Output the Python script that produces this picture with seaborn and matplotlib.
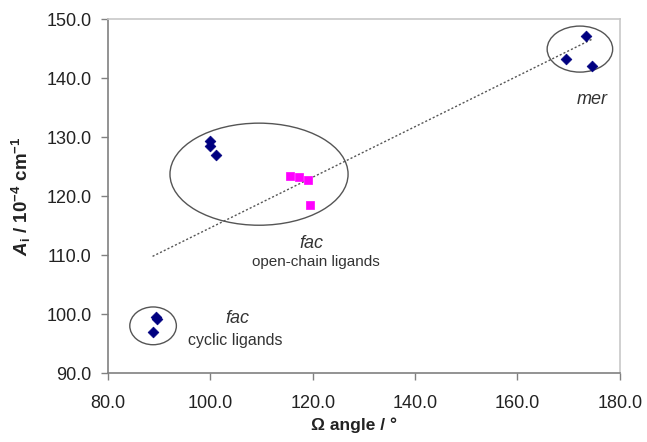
import numpy as np
import pandas as pd
import matplotlib
matplotlib.use("Agg")
import matplotlib.pyplot as plt
import seaborn as sns
from matplotlib.patches import Ellipse

# values
mer_x = [173.4, 169.5, 174.6]
mer_y = [147.1, 143.2, 142.0]
open_blue_x = [100.0, 100.0, 101.0]
open_blue_y = [129.3, 128.4, 126.9]
open_pink_x = [115.5, 117.3, 119.0, 119.4]
open_pink_y = [123.4, 123.2, 122.7, 118.5]
cyclic_x = [88.7, 89.3, 89.6]
cyclic_y = [97.0, 99.5, 99.1]

x_ticks = [80.0, 100.0, 120.0, 140.0, 160.0, 180.0]
y_ticks = [90.0, 100.0, 110.0, 120.0, 130.0, 140.0, 150.0]

df = pd.DataFrame({
    "omega": mer_x + open_blue_x + cyclic_x + open_pink_x,
    "A": mer_y + open_blue_y + cyclic_y + open_pink_y,
    "set": ["blue"] * 9 + ["pink"] * 4,
})

sns.set_theme(style="white")
plt.rcParams["font.family"] = ["Liberation Sans", "DejaVu Sans"]
plt.rcParams["mathtext.fontset"] = "custom"
plt.rcParams["mathtext.rm"] = "Liberation Sans"
plt.rcParams["mathtext.it"] = "Liberation Sans:italic"
plt.rcParams["mathtext.bf"] = "Liberation Sans:bold"
plt.rcParams["mathtext.bfit"] = "Liberation Sans:bold:italic"

fig, ax = plt.subplots(figsize=(6.47, 4.42), dpi=100)
fig.subplots_adjust(left=0.167, right=0.958, top=0.957, bottom=0.156)

# trend line over all points
sns.regplot(data=df, x="omega", y="A", scatter=False, ci=None, ax=ax,
            line_kws=dict(color="#555555", lw=1.0, ls=(0, (1.5, 1.5))))

sns.scatterplot(data=df[df["set"] == "blue"], x="omega", y="A", marker="D",
                color="#000080", s=30, edgecolor="#000080", linewidth=0.5, ax=ax, zorder=3)
sns.scatterplot(data=df[df["set"] == "pink"], x="omega", y="A", marker="s",
                color="#ff00ff", s=38, edgecolor="#ff00ff", linewidth=0.5, ax=ax, zorder=3)

# group outlines
for cx, cy, w, h in [(172.2, 144.9, 12.8, 7.8), (109.5, 123.7, 34.8, 17.3), (88.8, 98.0, 9.1, 6.4)]:
    ax.add_patch(Ellipse((cx, cy), w, h, fill=False, ec="#555555", lw=1.0))

tc = "#333333"
ax.text(174.6, 136.4, "mer", style="italic", fontsize=13, color=tc, ha="center", va="center")
ax.text(119.8, 111.9, "fac", style="italic", fontsize=13, color=tc, ha="center", va="center")
ax.text(120.6, 108.8, "open-chain ligands", fontsize=11, color=tc, ha="center", va="center")
ax.text(105.2, 99.2, "fac", style="italic", fontsize=13, color=tc, ha="center", va="center")
ax.text(104.9, 95.5, "cyclic ligands", fontsize=11.5, color=tc, ha="center", va="center")

ax.set_xlim(80, 180)
ax.set_ylim(90, 150)
ax.set_xticks(x_ticks)
ax.set_yticks(y_ticks)
ax.set_xticklabels([f"{v:.1f}" for v in x_ticks])
ax.set_yticklabels([f"{v:.1f}" for v in y_ticks])
ax.tick_params(axis="both", direction="out", length=5, width=1, color="#808080",
               labelsize=13, labelcolor="#222222", left=True, bottom=True)
ax.tick_params(axis="x", pad=11)
ax.tick_params(axis="y", pad=7)

for side in ["left", "bottom"]:
    ax.spines[side].set_color("#808080")
    ax.spines[side].set_linewidth(1.2)
for side in ["top", "right"]:
    ax.spines[side].set_color("#c8c8c8")
    ax.spines[side].set_linewidth(1.2)

ax.set_xlabel("Ω angle / °", fontsize=12.5, fontweight="bold", color="#222222")
ax.set_ylabel(r"$\mathbfit{A}_\mathbf{i}$ / 10$^{\mathbf{-4}}$ cm$^{\mathbf{-1}}$",
              fontsize=13.5, fontweight="bold", color="#222222")
ax.yaxis.set_label_coords(-0.146, 0.5)
ax.xaxis.set_label_coords(0.48, -0.125)

fig.savefig("out.png", dpi=100)
